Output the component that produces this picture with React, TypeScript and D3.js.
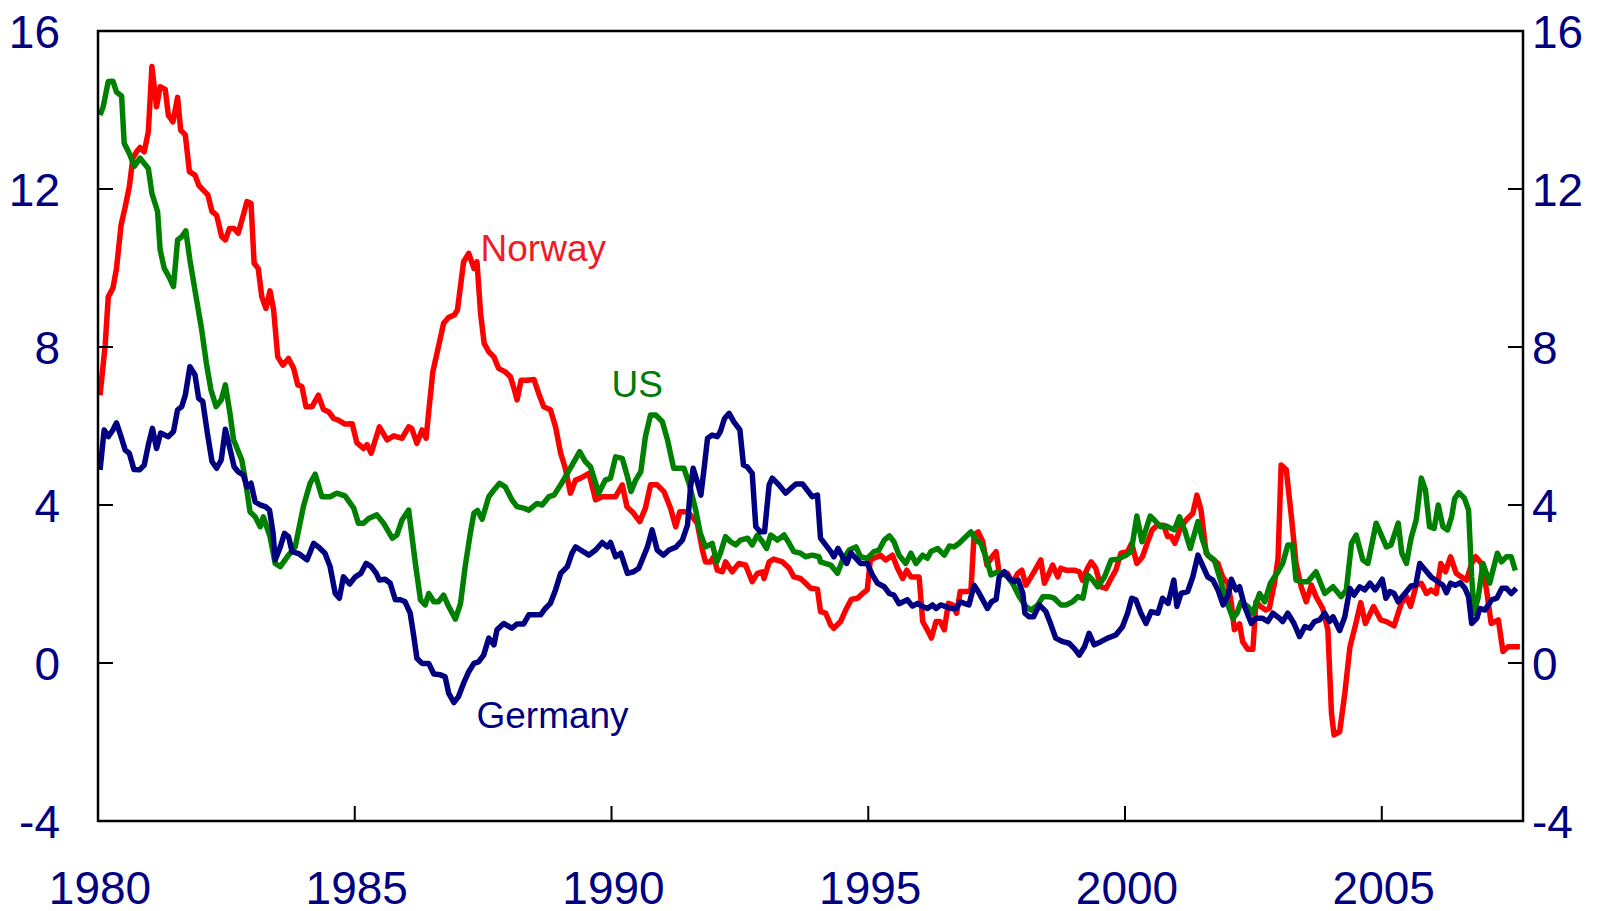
import React, { useEffect, useRef } from "react";
import * as d3 from "d3";

// axis ticks
const yTicks = [-4, 0, 4, 8, 12, 16];
const xTicks = [1980, 1985, 1990, 1995, 2000, 2005];

// [decimal year, percent]
const norway: [number, number][] = [
  [1980.04, 6.78], [1980.14, 8.05], [1980.2, 9.27], [1980.29, 9.49], [1980.36, 9.99], [1980.45, 11.09],
  [1980.53, 11.55], [1980.61, 12.06], [1980.68, 12.78], [1980.75, 12.94], [1980.82, 13.05], [1980.9, 12.94],
  [1980.98, 13.45], [1981.05, 15.1], [1981.14, 14.08], [1981.21, 14.59], [1981.31, 14.52], [1981.37, 13.87],
  [1981.46, 13.7], [1981.55, 14.32], [1981.61, 13.49], [1981.7, 13.37], [1981.78, 12.44], [1981.89, 12.35],
  [1981.96, 12.1], [1982.05, 11.97], [1982.14, 11.85], [1982.22, 11.43], [1982.31, 11.34], [1982.41, 10.79],
  [1982.48, 10.71], [1982.56, 11.0], [1982.65, 11.0], [1982.73, 10.88], [1982.83, 11.34], [1982.9, 11.68],
  [1982.98, 11.64], [1983.04, 10.12], [1983.12, 9.99], [1983.19, 9.27], [1983.27, 8.98], [1983.35, 9.42],
  [1983.42, 8.94], [1983.5, 7.75], [1983.6, 7.54], [1983.71, 7.71], [1983.81, 7.46], [1983.89, 7.04],
  [1983.97, 7.0], [1984.05, 6.49], [1984.17, 6.49], [1984.29, 6.78], [1984.39, 6.42], [1984.49, 6.36],
  [1984.59, 6.19], [1984.68, 6.15], [1984.81, 6.05], [1984.95, 6.06], [1985.04, 5.58], [1985.17, 5.43],
  [1985.24, 5.53], [1985.32, 5.31], [1985.48, 5.98], [1985.63, 5.65], [1985.76, 5.75], [1985.92, 5.69],
  [1986.05, 5.98], [1986.11, 5.94], [1986.21, 5.56], [1986.31, 5.9], [1986.39, 5.69], [1986.44, 6.36],
  [1986.52, 7.37], [1986.63, 8.01], [1986.73, 8.6], [1986.83, 8.75], [1986.94, 8.81], [1987.0, 8.94],
  [1987.12, 10.16], [1987.22, 10.37], [1987.32, 9.99], [1987.38, 10.16], [1987.45, 8.85], [1987.52, 8.09],
  [1987.61, 7.88], [1987.71, 7.75], [1987.8, 7.46], [1987.93, 7.37], [1988.03, 7.25], [1988.11, 6.91],
  [1988.16, 6.66], [1988.24, 7.16], [1988.36, 7.16], [1988.49, 7.18], [1988.58, 6.83], [1988.68, 6.49],
  [1988.81, 6.41], [1988.91, 5.98], [1989.01, 5.31], [1989.1, 4.93], [1989.2, 4.3], [1989.3, 4.63],
  [1989.4, 4.68], [1989.56, 4.8], [1989.69, 4.13], [1989.82, 4.21], [1990.08, 4.21], [1990.21, 4.51],
  [1990.3, 3.96], [1990.43, 3.79], [1990.55, 3.58], [1990.66, 3.92], [1990.76, 4.51], [1990.89, 4.51],
  [1991.02, 4.34], [1991.15, 3.92], [1991.25, 3.45], [1991.33, 3.83], [1991.48, 3.83], [1991.57, 3.7],
  [1991.67, 3.54], [1991.77, 2.86], [1991.83, 2.56], [1991.93, 2.56], [1991.99, 2.69], [1992.06, 2.35],
  [1992.16, 2.31], [1992.22, 2.56], [1992.35, 2.31], [1992.48, 2.52], [1992.61, 2.48], [1992.74, 2.06],
  [1992.84, 2.27], [1992.94, 2.31], [1992.97, 2.14], [1993.07, 2.56], [1993.16, 2.63], [1993.33, 2.56],
  [1993.46, 2.4], [1993.55, 2.18], [1993.68, 2.14], [1993.78, 2.02], [1993.88, 1.89], [1994.01, 1.87],
  [1994.07, 1.3], [1994.17, 1.26], [1994.27, 0.96], [1994.33, 0.88], [1994.46, 1.05], [1994.56, 1.34],
  [1994.67, 1.61], [1994.79, 1.64], [1994.89, 1.76], [1994.98, 1.85], [1995.04, 2.61], [1995.11, 2.65],
  [1995.24, 2.73], [1995.34, 2.61], [1995.47, 2.73], [1995.57, 2.4], [1995.67, 2.14], [1995.75, 2.35],
  [1995.83, 2.18], [1995.99, 2.18], [1996.06, 1.05], [1996.15, 0.84], [1996.23, 0.63], [1996.32, 1.05],
  [1996.4, 1.05], [1996.48, 0.84], [1996.56, 1.51], [1996.64, 1.47], [1996.72, 1.26], [1996.79, 1.81],
  [1996.93, 1.81], [1997.0, 1.85], [1997.06, 3.24], [1997.14, 3.32], [1997.23, 3.07], [1997.31, 2.48],
  [1997.41, 2.69], [1997.49, 2.82], [1997.55, 2.27], [1997.71, 2.27], [1997.81, 2.02], [1997.91, 2.27],
  [1997.99, 2.35], [1998.07, 1.97], [1998.17, 2.18], [1998.27, 2.4], [1998.36, 2.61], [1998.43, 2.02],
  [1998.49, 2.18], [1998.59, 2.48], [1998.69, 2.18], [1998.75, 2.4], [1998.85, 2.35], [1999.01, 2.35],
  [1999.11, 2.31], [1999.17, 2.1], [1999.27, 2.4], [1999.34, 2.56], [1999.43, 2.4], [1999.53, 1.93],
  [1999.63, 1.89], [1999.73, 2.14], [1999.82, 2.35], [1999.92, 2.78], [2000.05, 2.82], [2000.13, 3.03],
  [2000.23, 2.52], [2000.34, 2.69], [2000.43, 3.03], [2000.53, 3.37], [2000.63, 3.49], [2000.75, 3.49],
  [2000.83, 3.2], [2000.9, 3.2], [2000.97, 3.03], [2001.09, 3.45], [2001.19, 3.62], [2001.32, 3.79],
  [2001.4, 4.25], [2001.48, 3.87], [2001.58, 2.78], [2001.68, 2.65], [2001.81, 2.52], [2001.9, 2.18],
  [2002.0, 2.02], [2002.07, 1.51], [2002.13, 0.84], [2002.23, 0.99], [2002.29, 0.54], [2002.39, 0.35],
  [2002.49, 0.35], [2002.55, 1.55], [2002.64, 1.43], [2002.74, 1.34], [2002.81, 1.38], [2002.91, 2.02],
  [2002.98, 2.65], [2003.04, 5.01], [2003.14, 4.89], [2003.24, 3.7], [2003.33, 2.52], [2003.43, 1.93],
  [2003.53, 1.55], [2003.63, 1.97], [2003.72, 1.68], [2003.85, 1.38], [2003.95, 0.84], [2004.02, -1.27],
  [2004.07, -1.82], [2004.18, -1.74], [2004.28, -0.77], [2004.38, 0.41], [2004.48, 0.92], [2004.59, 1.53],
  [2004.68, 1.0], [2004.84, 1.43], [2004.98, 1.09], [2005.09, 1.05], [2005.24, 0.94], [2005.38, 1.51],
  [2005.48, 1.68], [2005.56, 1.43], [2005.67, 1.97], [2005.77, 2.02], [2005.87, 1.76], [2005.96, 1.85],
  [2006.06, 1.76], [2006.15, 2.52], [2006.24, 2.31], [2006.34, 2.69], [2006.45, 2.27], [2006.55, 2.18],
  [2006.65, 2.1], [2006.75, 2.52], [2006.83, 2.69], [2006.94, 2.52], [2007.04, 1.85], [2007.13, 1.0],
  [2007.27, 1.09], [2007.36, 0.29], [2007.46, 0.41], [2007.69, 0.41],
];

const us: [number, number][] = [
  [1980.04, 13.87], [1980.1, 14.08], [1980.2, 14.72], [1980.29, 14.73], [1980.36, 14.46], [1980.46, 14.35],
  [1980.51, 13.16], [1980.61, 12.9], [1980.71, 12.58], [1980.82, 12.78], [1980.98, 12.52], [1981.05, 11.89],
  [1981.16, 11.43], [1981.21, 10.46], [1981.29, 9.99], [1981.38, 9.78], [1981.47, 9.53], [1981.55, 10.71],
  [1981.63, 10.79], [1981.71, 10.94], [1981.79, 10.2], [1981.91, 9.27], [1982.02, 8.43], [1982.11, 7.59],
  [1982.2, 6.91], [1982.3, 6.49], [1982.4, 6.66], [1982.48, 7.04], [1982.57, 6.32], [1982.64, 5.65],
  [1982.8, 5.14], [1982.87, 4.63], [1982.96, 3.83], [1983.06, 3.7], [1983.16, 3.45], [1983.22, 3.7],
  [1983.35, 3.2], [1983.45, 2.52], [1983.55, 2.44], [1983.71, 2.73], [1983.84, 2.94], [1984.0, 3.96],
  [1984.13, 4.55], [1984.23, 4.78], [1984.36, 4.21], [1984.52, 4.21], [1984.65, 4.3], [1984.81, 4.23],
  [1984.98, 3.92], [1985.07, 3.54], [1985.17, 3.54], [1985.27, 3.66], [1985.43, 3.75], [1985.56, 3.54],
  [1985.73, 3.16], [1985.82, 3.24], [1985.92, 3.62], [1986.05, 3.87], [1986.18, 2.52], [1986.28, 1.6],
  [1986.37, 1.47], [1986.44, 1.76], [1986.54, 1.55], [1986.63, 1.55], [1986.73, 1.72], [1986.83, 1.43],
  [1986.96, 1.11], [1987.06, 1.51], [1987.15, 2.44], [1987.25, 3.28], [1987.32, 3.79], [1987.39, 3.86],
  [1987.48, 3.64], [1987.61, 4.21], [1987.71, 4.38], [1987.82, 4.55], [1987.93, 4.46], [1988.06, 4.13],
  [1988.16, 3.96], [1988.29, 3.92], [1988.39, 3.87], [1988.55, 4.04], [1988.65, 4.0], [1988.78, 4.21],
  [1988.88, 4.25], [1989.01, 4.51], [1989.14, 4.8], [1989.27, 5.1], [1989.38, 5.35], [1989.49, 5.1],
  [1989.59, 4.97], [1989.75, 4.3], [1989.88, 4.63], [1989.98, 4.68], [1990.08, 5.22], [1990.21, 5.18],
  [1990.31, 4.72], [1990.38, 4.34], [1990.47, 4.63], [1990.57, 4.84], [1990.66, 5.73], [1990.76, 6.28],
  [1990.86, 6.28], [1990.99, 6.11], [1991.09, 5.65], [1991.21, 4.93], [1991.41, 4.93], [1991.51, 4.55],
  [1991.64, 3.87], [1991.73, 3.28], [1991.83, 2.94], [1991.96, 3.03], [1992.05, 2.56], [1992.12, 2.78],
  [1992.22, 3.2], [1992.32, 3.07], [1992.42, 2.99], [1992.51, 3.11], [1992.65, 3.16], [1992.74, 2.99],
  [1992.84, 3.24], [1992.94, 3.07], [1993.02, 2.9], [1993.1, 3.24], [1993.23, 3.11], [1993.36, 3.24],
  [1993.46, 3.03], [1993.55, 2.82], [1993.68, 2.78], [1993.78, 2.69], [1993.91, 2.73], [1994.04, 2.69],
  [1994.07, 2.56], [1994.27, 2.48], [1994.4, 2.27], [1994.5, 2.61], [1994.63, 2.86], [1994.76, 2.94],
  [1994.85, 2.69], [1994.98, 2.65], [1995.11, 2.82], [1995.21, 2.86], [1995.31, 3.11], [1995.41, 3.22],
  [1995.5, 3.07], [1995.6, 2.73], [1995.73, 2.52], [1995.83, 2.78], [1995.93, 2.52], [1996.06, 2.73],
  [1996.15, 2.65], [1996.22, 2.82], [1996.35, 2.9], [1996.48, 2.73], [1996.58, 2.96], [1996.67, 2.94],
  [1996.77, 3.03], [1996.87, 3.16], [1997.0, 3.32], [1997.1, 3.11], [1997.19, 3.03], [1997.29, 2.69],
  [1997.39, 2.23], [1997.52, 2.31], [1997.62, 2.27], [1997.71, 2.18], [1997.81, 2.02], [1997.94, 1.68],
  [1998.07, 1.43], [1998.17, 1.34], [1998.3, 1.47], [1998.4, 1.68], [1998.52, 1.68], [1998.62, 1.64],
  [1998.75, 1.47], [1998.85, 1.47], [1998.98, 1.55], [1999.08, 1.68], [1999.18, 1.64], [1999.27, 2.23],
  [1999.37, 2.1], [1999.47, 1.93], [1999.6, 2.18], [1999.73, 2.61], [1999.86, 2.63], [2000.02, 2.73],
  [2000.12, 2.82], [2000.23, 3.72], [2000.33, 3.07], [2000.49, 3.72], [2000.57, 3.62], [2000.69, 3.45],
  [2000.8, 3.47], [2000.96, 3.37], [2001.06, 3.7], [2001.16, 3.37], [2001.27, 2.9], [2001.42, 3.58],
  [2001.51, 3.11], [2001.61, 2.73], [2001.74, 2.61], [2001.84, 2.18], [2001.97, 1.6], [2002.1, 1.13],
  [2002.18, 1.26], [2002.26, 1.55], [2002.39, 1.43], [2002.49, 1.26], [2002.62, 1.76], [2002.72, 1.55],
  [2002.83, 2.02], [2002.98, 2.31], [2003.07, 2.52], [2003.17, 2.99], [2003.26, 2.99], [2003.33, 2.1],
  [2003.43, 2.06], [2003.56, 2.06], [2003.72, 2.31], [2003.89, 1.76], [2004.05, 1.93], [2004.21, 1.68],
  [2004.31, 1.85], [2004.41, 3.03], [2004.5, 3.24], [2004.63, 2.61], [2004.73, 2.52], [2004.89, 3.54],
  [2005.09, 2.94], [2005.18, 2.99], [2005.32, 3.54], [2005.39, 2.78], [2005.48, 2.52], [2005.57, 3.16],
  [2005.67, 3.62], [2005.77, 4.68], [2005.85, 4.38], [2005.93, 3.45], [2006.02, 3.41], [2006.1, 4.0],
  [2006.19, 3.45], [2006.28, 3.37], [2006.36, 3.7], [2006.42, 4.17], [2006.5, 4.31], [2006.61, 4.17],
  [2006.69, 3.87], [2006.75, 2.18], [2006.8, 1.26], [2006.88, 1.68], [2006.97, 2.52], [2007.1, 2.02],
  [2007.25, 2.78], [2007.33, 2.56], [2007.43, 2.69], [2007.52, 2.69], [2007.6, 2.34],
];

const germany: [number, number][] = [
  [1980.04, 4.89], [1980.12, 5.9], [1980.2, 5.73], [1980.29, 5.9], [1980.36, 6.08], [1980.44, 5.77],
  [1980.53, 5.39], [1980.61, 5.31], [1980.7, 4.9], [1980.81, 4.89], [1980.9, 5.01], [1980.98, 5.52],
  [1981.06, 5.94], [1981.14, 5.43], [1981.22, 5.82], [1981.37, 5.73], [1981.47, 5.86], [1981.55, 6.41],
  [1981.63, 6.49], [1981.7, 6.78], [1981.79, 7.5], [1981.89, 7.29], [1981.96, 6.7], [1982.04, 6.62],
  [1982.13, 5.82], [1982.22, 5.1], [1982.31, 4.93], [1982.4, 5.14], [1982.48, 5.92], [1982.56, 5.48],
  [1982.65, 4.97], [1982.73, 4.84], [1982.83, 4.76], [1982.9, 4.46], [1982.98, 4.55], [1983.06, 4.08],
  [1983.16, 4.0], [1983.26, 3.96], [1983.34, 3.87], [1983.41, 3.28], [1983.45, 2.61], [1983.55, 2.94],
  [1983.63, 3.28], [1983.71, 3.2], [1983.78, 2.82], [1983.92, 2.76], [1984.07, 2.61], [1984.2, 3.03],
  [1984.29, 2.94], [1984.42, 2.78], [1984.52, 2.44], [1984.62, 1.76], [1984.7, 1.64], [1984.78, 2.18],
  [1984.9, 2.0], [1985.01, 2.18], [1985.12, 2.27], [1985.22, 2.52], [1985.32, 2.44], [1985.42, 2.27],
  [1985.48, 2.1], [1985.59, 2.12], [1985.69, 2.02], [1985.79, 1.6], [1985.89, 1.6], [1985.98, 1.55],
  [1986.08, 1.26], [1986.15, 0.67], [1986.21, 0.12], [1986.31, -0.01], [1986.44, -0.01], [1986.54, -0.28],
  [1986.67, -0.3], [1986.76, -0.35], [1986.83, -0.77], [1986.93, -1.0], [1987.02, -0.85], [1987.12, -0.51],
  [1987.22, -0.22], [1987.32, -0.01], [1987.41, 0.03], [1987.51, 0.2], [1987.61, 0.63], [1987.71, 0.46],
  [1987.77, 0.84], [1987.9, 1.0], [1988.06, 0.88], [1988.16, 0.99], [1988.29, 0.99], [1988.39, 1.22],
  [1988.62, 1.22], [1988.71, 1.38], [1988.81, 1.51], [1988.91, 1.85], [1989.01, 2.27], [1989.14, 2.44],
  [1989.23, 2.78], [1989.3, 2.94], [1989.4, 2.86], [1989.56, 2.73], [1989.69, 2.86], [1989.82, 3.05],
  [1989.92, 2.94], [1989.98, 3.05], [1990.08, 2.69], [1990.18, 2.78], [1990.31, 2.27], [1990.43, 2.31],
  [1990.53, 2.4], [1990.6, 2.62], [1990.7, 2.94], [1990.79, 3.37], [1990.89, 2.86], [1991.01, 2.73],
  [1991.12, 2.86], [1991.25, 2.93], [1991.38, 3.11], [1991.48, 3.49], [1991.54, 4.46], [1991.59, 4.93],
  [1991.66, 4.63], [1991.74, 4.25], [1991.8, 4.89], [1991.87, 5.69], [1991.96, 5.77], [1992.06, 5.73],
  [1992.12, 5.86], [1992.2, 6.19], [1992.29, 6.32], [1992.38, 6.11], [1992.5, 5.9], [1992.57, 5.01],
  [1992.64, 4.97], [1992.74, 4.8], [1992.81, 3.45], [1992.9, 3.32], [1992.98, 3.32], [1993.07, 4.51],
  [1993.13, 4.68], [1993.26, 4.51], [1993.39, 4.3], [1993.49, 4.42], [1993.59, 4.53], [1993.72, 4.53],
  [1993.81, 4.38], [1993.91, 4.21], [1994.01, 4.25], [1994.07, 3.16], [1994.17, 2.99], [1994.27, 2.82],
  [1994.33, 2.69], [1994.41, 2.9], [1994.5, 2.69], [1994.58, 2.52], [1994.66, 2.79], [1994.76, 2.65],
  [1994.85, 2.52], [1994.98, 2.52], [1995.08, 2.23], [1995.18, 2.02], [1995.31, 1.93], [1995.41, 1.76],
  [1995.5, 1.72], [1995.6, 1.5], [1995.76, 1.6], [1995.86, 1.44], [1995.96, 1.51], [1996.06, 1.43],
  [1996.15, 1.38], [1996.25, 1.47], [1996.32, 1.38], [1996.41, 1.47], [1996.51, 1.43], [1996.61, 1.38],
  [1996.71, 1.38], [1996.79, 1.55], [1996.87, 1.51], [1996.96, 1.47], [1997.06, 1.97], [1997.14, 1.81],
  [1997.23, 1.6], [1997.32, 1.38], [1997.4, 1.55], [1997.49, 1.61], [1997.55, 2.18], [1997.65, 2.31],
  [1997.75, 2.14], [1997.84, 2.06], [1997.92, 2.1], [1998.01, 1.76], [1998.05, 1.26], [1998.13, 1.17],
  [1998.22, 1.17], [1998.33, 1.47], [1998.46, 1.3], [1998.56, 0.96], [1998.65, 0.63], [1998.79, 0.54],
  [1998.91, 0.5], [1999.01, 0.37], [1999.11, 0.2], [1999.21, 0.41], [1999.3, 0.75], [1999.4, 0.46],
  [1999.53, 0.54], [1999.66, 0.63], [1999.82, 0.71], [1999.95, 0.92], [2000.05, 1.26], [2000.13, 1.64],
  [2000.21, 1.6], [2000.31, 1.26], [2000.41, 1.0], [2000.51, 1.3], [2000.64, 1.26], [2000.73, 1.64],
  [2000.84, 1.51], [2000.95, 2.1], [2001.01, 1.43], [2001.09, 1.76], [2001.22, 1.81], [2001.32, 2.18],
  [2001.42, 2.73], [2001.52, 2.44], [2001.61, 2.18], [2001.71, 2.1], [2001.81, 1.85], [2001.91, 1.47],
  [2002.01, 1.72], [2002.07, 2.12], [2002.16, 1.85], [2002.23, 1.93], [2002.33, 1.43], [2002.46, 1.0],
  [2002.55, 1.13], [2002.68, 1.13], [2002.78, 1.05], [2002.88, 1.26], [2003.01, 1.13], [2003.07, 1.05],
  [2003.17, 1.26], [2003.29, 1.0], [2003.4, 0.67], [2003.5, 0.92], [2003.6, 0.88], [2003.69, 1.05],
  [2003.79, 1.09], [2003.89, 1.26], [2003.98, 1.05], [2004.05, 1.17], [2004.18, 0.82], [2004.28, 1.17],
  [2004.38, 1.89], [2004.46, 1.72], [2004.57, 1.93], [2004.67, 1.85], [2004.77, 2.02], [2004.87, 1.85],
  [2004.96, 2.02], [2005.01, 2.12], [2005.08, 1.64], [2005.16, 1.81], [2005.24, 1.76], [2005.32, 1.55],
  [2005.45, 1.76], [2005.57, 1.95], [2005.66, 1.97], [2005.74, 2.52], [2005.85, 2.35], [2005.96, 2.18],
  [2006.09, 2.06], [2006.19, 1.97], [2006.26, 1.78], [2006.34, 2.02], [2006.43, 1.97], [2006.53, 2.03],
  [2006.62, 1.89], [2006.69, 1.68], [2006.75, 1.0], [2006.85, 1.13], [2006.91, 1.38], [2007.01, 1.34],
  [2007.14, 1.6], [2007.24, 1.64], [2007.34, 1.89], [2007.43, 1.89], [2007.52, 1.76], [2007.62, 1.89],
];

// where each series name sits, in data units (left edge, baseline)
const labelNorway: [number, number] = [1987.45, 10.18];
const labelUS: [number, number] = [1990.0, 6.74];
const labelGermany: [number, number] = [1987.37, -1.65];

const series = [
  { name: "Norway", data: norway, color: "#ff0000", textColor: "#ee1c24", label: labelNorway },
  { name: "US", data: us, color: "#008000", textColor: "#007a0a", label: labelUS },
  { name: "Germany", data: germany, color: "#000080", textColor: "#000080", label: labelGermany },
];

const W = 1618;
const H = 911;
const FONT = "'Liberation Sans', Arial, sans-serif";

function drawChart(svgEl: SVGSVGElement) {
  const svg = d3.select(svgEl);
  svg.selectAll("*").remove();

  const left = 98;
  const right = 1523;
  const top = 31;
  const bottom = 821;

  const x = d3.scaleLinear().domain([1980, 2007.75]).range([left, right]);
  const y = d3.scaleLinear().domain([-4, 16]).range([bottom, top]);

  svg.append("rect").attr("width", W).attr("height", H).attr("fill", "#fff");

  // lines
  const line = d3
    .line<[number, number]>()
    .x((d) => x(d[0]))
    .y((d) => y(d[1]));

  series.forEach((s) => {
    svg
      .append("path")
      .datum(s.data)
      .attr("fill", "none")
      .attr("stroke", s.color)
      .attr("stroke-width", 5.5)
      .attr("stroke-linejoin", "round")
      .attr("d", line);
  });

  // frame
  svg
    .append("rect")
    .attr("x", left)
    .attr("y", top)
    .attr("width", right - left)
    .attr("height", bottom - top)
    .attr("fill", "none")
    .attr("stroke", "#000")
    .attr("stroke-width", 2.5);

  // inward ticks on both sides and bottom
  const tickLen = 15;
  yTicks.forEach((v) => {
    svg.append("line").attr("x1", left).attr("x2", left + tickLen)
      .attr("y1", y(v)).attr("y2", y(v)).attr("stroke", "#000").attr("stroke-width", 2);
    svg.append("line").attr("x1", right - tickLen).attr("x2", right)
      .attr("y1", y(v)).attr("y2", y(v)).attr("stroke", "#000").attr("stroke-width", 2);
  });
  xTicks.slice(1).forEach((t) => {
    svg.append("line").attr("x1", x(t)).attr("x2", x(t))
      .attr("y1", bottom).attr("y2", bottom - tickLen).attr("stroke", "#000").attr("stroke-width", 2);
  });

  // tick labels
  const labelStyle = (sel: d3.Selection<SVGTextElement, unknown, null, undefined>) =>
    sel.style("font-family", FONT).style("font-size", "46px").attr("fill", "#000080");

  yTicks.forEach((v) => {
    svg.append("text").attr("x", 60).attr("y", y(v) + 16.5)
      .attr("text-anchor", "end").call(labelStyle).text(v);
    svg.append("text").attr("x", 1532).attr("y", y(v) + 16.5)
      .attr("text-anchor", "start").call(labelStyle).text(v);
  });
  xTicks.forEach((t) => {
    svg.append("text").attr("x", x(t) + 2).attr("y", 904)
      .attr("text-anchor", "middle").call(labelStyle).text(t);
  });

  // series names
  series.forEach((s) => {
    svg
      .append("text")
      .attr("x", x(s.label[0]))
      .attr("y", y(s.label[1]))
      .style("font-family", FONT)
      .style("font-size", "37px")
      .attr("fill", s.textColor)
      .text(s.name);
  });
}

export default function App() {
  const ref = useRef<SVGSVGElement>(null);

  useEffect(() => {
    if (ref.current) drawChart(ref.current);
  }, []);

  return (
    <svg
      ref={ref}
      width={W}
      height={H}
      style={{ position: "absolute", left: 0, top: 0, display: "block" }}
    />
  );
}
